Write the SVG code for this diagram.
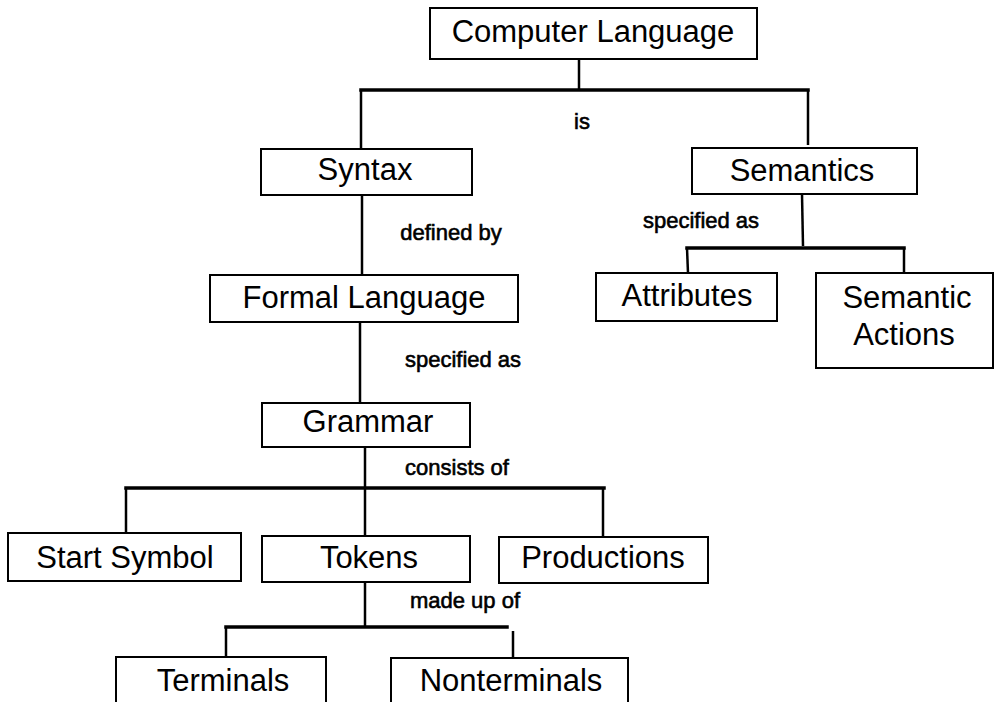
<svg xmlns="http://www.w3.org/2000/svg" width="995" height="702" viewBox="0 0 995 702">
  <style>
    .box { fill: #ffffff; stroke: #000000; stroke-width: 2; }
    .lbl { font-family: "Liberation Sans", Arial, Helvetica, sans-serif; font-size: 31px; fill: #000000; text-anchor: middle; }
    .rel { font-family: "Liberation Sans", Arial, Helvetica, sans-serif; font-size: 22px; fill: #000000; stroke: #000000; stroke-width: 0.6; text-anchor: middle; }
    .bus { fill: none; stroke: #000000; stroke-width: 3.5; stroke-linecap: square; }
    .drop { fill: none; stroke: #000000; stroke-width: 2.5; }
  </style>
  <rect width="995" height="702" fill="#ffffff"/>

  <!-- connectors -->
  <g id="connectors">
    <!-- Computer Language -> Syntax / Semantics -->
    <line class="drop" x1="579" y1="59" x2="579" y2="90"/>
    <line class="bus" x1="361" y1="90" x2="808" y2="90"/>
    <line class="drop" x1="361" y1="90" x2="361" y2="149"/>
    <line class="drop" x1="808" y1="90" x2="808" y2="145"/>
    <!-- Syntax -> Formal Language -> Grammar -->
    <line class="drop" x1="362" y1="195" x2="362" y2="275"/>
    <line class="drop" x1="360" y1="322" x2="360" y2="403"/>
    <!-- Semantics -> Attributes / Semantic Actions -->
    <line class="drop" x1="802" y1="194" x2="803" y2="246"/>
    <line class="bus" x1="687" y1="248" x2="904" y2="248"/>
    <line class="drop" x1="687" y1="248" x2="688" y2="273"/>
    <line class="drop" x1="904" y1="248" x2="904" y2="273"/>
    <!-- Grammar -> Start Symbol / Tokens / Productions -->
    <line class="drop" x1="365" y1="447" x2="365" y2="536"/>
    <line class="bus" x1="126" y1="488" x2="604" y2="488"/>
    <line class="drop" x1="126" y1="488" x2="126" y2="533"/>
    <line class="drop" x1="603" y1="488" x2="603" y2="537"/>
    <!-- Tokens -> Terminals / Nonterminals -->
    <line class="drop" x1="365" y1="582" x2="365" y2="627"/>
    <line class="bus" x1="226" y1="627" x2="507" y2="627"/>
    <line class="drop" x1="226" y1="627" x2="226" y2="657"/>
    <line class="drop" x1="513" y1="631" x2="513" y2="658"/>
  </g>

  <!-- relation labels -->
  <g id="relation-labels">
    <text class="rel" x="582" y="129">is</text>
    <text class="rel" x="451" y="240">defined by</text>
    <text class="rel" x="463" y="367">specified as</text>
    <text class="rel" x="701" y="228">specified as</text>
    <text class="rel" x="457" y="475">consists of</text>
    <text class="rel" x="465" y="608">made up of</text>
  </g>

  <g id="computer-language">
    <rect class="box" x="430" y="8" width="327" height="51"/>
    <text class="lbl" x="593" y="42">Computer Language</text>
  </g>
  <g id="syntax">
    <rect class="box" x="261" y="149" width="211" height="46"/>
    <text class="lbl" x="365" y="180">Syntax</text>
  </g>
  <g id="semantics">
    <rect class="box" x="692" y="148" width="225" height="46"/>
    <text class="lbl" x="802" y="181">Semantics</text>
  </g>
  <g id="formal-language">
    <rect class="box" x="210" y="275" width="308" height="47"/>
    <text class="lbl" x="364" y="308">Formal Language</text>
  </g>
  <g id="grammar">
    <rect class="box" x="262" y="403" width="208" height="44"/>
    <text class="lbl" x="368" y="432">Grammar</text>
  </g>
  <g id="attributes">
    <rect class="box" x="596" y="273" width="181" height="48"/>
    <text class="lbl" x="687" y="306">Attributes</text>
  </g>
  <g id="semantic-actions">
    <rect class="box" x="816" y="273" width="177" height="95"/>
    <text class="lbl" x="907" y="308">Semantic</text>
    <text class="lbl" x="904" y="345">Actions</text>
  </g>
  <g id="start-symbol">
    <rect class="box" x="8" y="533" width="233" height="48"/>
    <text class="lbl" x="125" y="568">Start Symbol</text>
  </g>
  <g id="tokens">
    <rect class="box" x="262" y="536" width="208" height="46"/>
    <text class="lbl" x="369" y="568">Tokens</text>
  </g>
  <g id="productions">
    <rect class="box" x="499" y="537" width="209" height="46"/>
    <text class="lbl" x="603" y="568">Productions</text>
  </g>
  <g id="terminals">
    <rect class="box" x="116" y="657" width="210" height="48"/>
    <text class="lbl" x="223" y="691">Terminals</text>
  </g>
  <g id="nonterminals">
    <rect class="box" x="391" y="658" width="237" height="47"/>
    <text class="lbl" x="511" y="691">Nonterminals</text>
  </g>
</svg>
